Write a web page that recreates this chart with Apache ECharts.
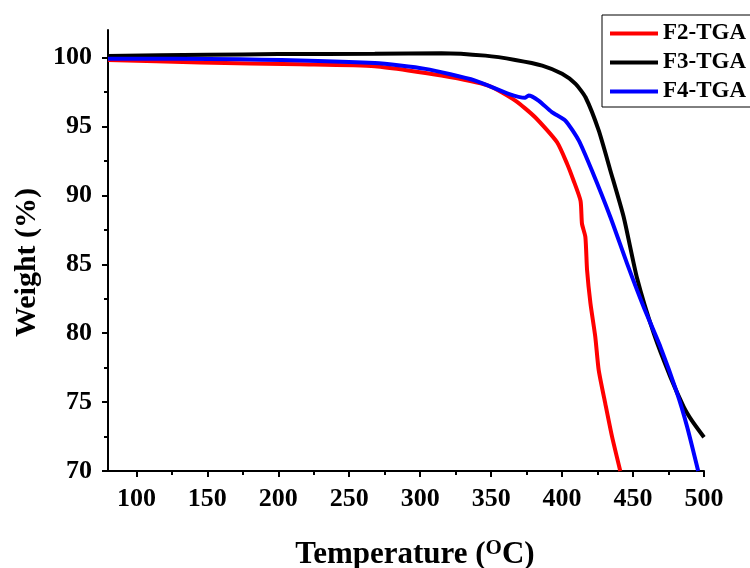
<!DOCTYPE html>
<html>
<head>
    <meta charset="utf-8"/>
    <title>TGA</title>
    <script src="https://cdn.jsdelivr.net/npm/echarts@6/dist/echarts.min.js"></script>
    <style>
        html, body { margin: 0; padding: 0; background: #fff; }
        #main { width: 750px; height: 568px; }
    </style>
</head>
<body>
<div id="main"></div>
<script>
    // 读图得到的数据 (温度 / 失重)
    var f2Temp = [80, 145, 215, 268, 315, 348, 367, 381, 396.4, 403.5, 408, 413, 414, 416.4, 417.6, 420, 423.4, 425.8, 430.5, 435.2, 441];
    var f2Weight = [99.83, 99.64, 99.51, 99.37, 98.7, 97.97, 96.88, 95.67, 93.86, 92.3, 91.1, 89.6, 87.95, 86.98, 84.57, 82.15, 79.73, 77.32, 74.86, 72.49, 70.0];

    var f3Temp = [80, 150, 200, 268, 315, 346, 367, 386, 400, 409.5, 416.5, 425.8, 434, 443.4, 452.8, 464.6, 476.3, 485.7, 491.6, 500];
    var f3Weight = [100.12, 100.2, 100.25, 100.27, 100.32, 100.14, 99.83, 99.42, 98.82, 98.09, 97.12, 94.71, 91.81, 88.43, 84.0, 79.98, 76.83, 74.66, 73.64, 72.45];

    var f4Temp = [80, 173, 268, 303.6, 338.8, 362.3, 374, 376.4, 383.4, 392.8, 402.3, 411.7, 421, 434, 445.8, 457.5, 469.3, 481.1, 488.1, 495.9];
    var f4Weight = [99.92, 99.88, 99.6, 99.18, 98.33, 97.37, 97.08, 97.25, 96.88, 96.04, 95.43, 93.99, 91.8, 88.43, 85.05, 81.9, 79.0, 75.63, 73.21, 70.0];

    var xMajor = [100, 150, 200, 250, 300, 350, 400, 450, 500];
    var xMinor = [125, 175, 225, 275, 325, 375, 425, 475];
    var yMajor = [70, 75, 80, 85, 90, 95, 100];
    var yMinor = [72.5, 77.5, 82.5, 87.5, 92.5, 97.5];

    function pairs(xs, ys) {
        var out = [];
        for (var i = 0; i < xs.length; i++) out.push([xs[i], ys[i]]);
        return out;
    }

    var font = 'Liberation Serif, Times New Roman, serif';
    var chart = echarts.init(document.getElementById('main'));

    var axisLine = { show: true, onZero: false, lineStyle: { color: '#000', width: 2 } };

    var option = {
        backgroundColor: '#fff',
        animation: false,
        grid: { left: 108, right: 46, top: 30, bottom: 97, outerBoundsMode: 'none' },
        legend: {
            orient: 'vertical',
            left: 602,
            top: 15,
            padding: [7, 10, 4, 8],
            borderColor: '#000',
            borderWidth: 1,
            itemWidth: 48,
            itemHeight: 4,
            itemGap: 6,
            icon: 'rect',
            textStyle: { fontFamily: font, fontWeight: 'bold', fontSize: 23, color: '#000' },
            data: ['F2-TGA', 'F3-TGA', 'F4-TGA']
        },
        xAxis: [{
            type: 'value',
            min: 80,
            max: 500,
            axisLine: axisLine,
            splitLine: { show: false },
            axisTick: { show: true, length: 6, customValues: xMajor, lineStyle: { color: '#000', width: 2 } },
            axisLabel: { customValues: xMajor, margin: 15, fontFamily: font, fontWeight: 'bold', fontSize: 26, color: '#000' },
            name: '{a|Temperature (}{sup|O}{a|C)}',
            nameLocation: 'middle',
            nameGap: 67,
            nameTextStyle: {
                padding: [0, 0, 0, 18],
                rich: {
                    a: { fontFamily: font, fontWeight: 'bold', fontSize: 31, color: '#000' },
                    sup: { fontFamily: font, fontWeight: 'bold', fontSize: 21, color: '#000', verticalAlign: 'top', padding: [0, 0, 12, 0] }
                }
            }
        }, {
            type: 'value',
            min: 80,
            max: 500,
            position: 'bottom',
            offset: 0,
            axisLine: { show: false },
            splitLine: { show: false },
            axisTick: { show: true, length: 4, customValues: xMinor, lineStyle: { color: '#000', width: 2 } },
            axisLabel: { show: false }
        }],
        yAxis: [{
            type: 'value',
            min: 70,
            max: 102,
            axisLine: axisLine,
            splitLine: { show: false },
            axisTick: { show: true, length: 6, customValues: yMajor, lineStyle: { color: '#000', width: 2 } },
            axisLabel: { customValues: yMajor, margin: 16, fontFamily: font, fontWeight: 'bold', fontSize: 26, color: '#000' },
            name: 'Weight (%)',
            nameLocation: 'middle',
            nameGap: 66,
            nameTextStyle: { fontFamily: font, fontWeight: 'bold', fontSize: 30, color: '#000', padding: [0, 24, 0, 0] }
        }, {
            type: 'value',
            min: 70,
            max: 102,
            position: 'left',
            offset: 0,
            axisLine: { show: false },
            splitLine: { show: false },
            axisTick: { show: true, length: 4, customValues: yMinor, lineStyle: { color: '#000', width: 2 } },
            axisLabel: { show: false }
        }],
        series: [{
            name: 'F2-TGA',
            type: 'line',
            smooth: 0.2,
            showSymbol: false,
            color: '#ff0000',
            lineStyle: { width: 4 },
            data: pairs(f2Temp, f2Weight)
        }, {
            name: 'F3-TGA',
            type: 'line',
            smooth: 0.2,
            showSymbol: false,
            color: '#000000',
            lineStyle: { width: 4 },
            data: pairs(f3Temp, f3Weight)
        }, {
            name: 'F4-TGA',
            type: 'line',
            smooth: 0.2,
            showSymbol: false,
            color: '#0000ff',
            lineStyle: { width: 4 },
            data: pairs(f4Temp, f4Weight)
        }]
    };
    chart.setOption(option);
    window.onresize = function () {
        chart.resize();
    };
</script>
</body>
</html>
